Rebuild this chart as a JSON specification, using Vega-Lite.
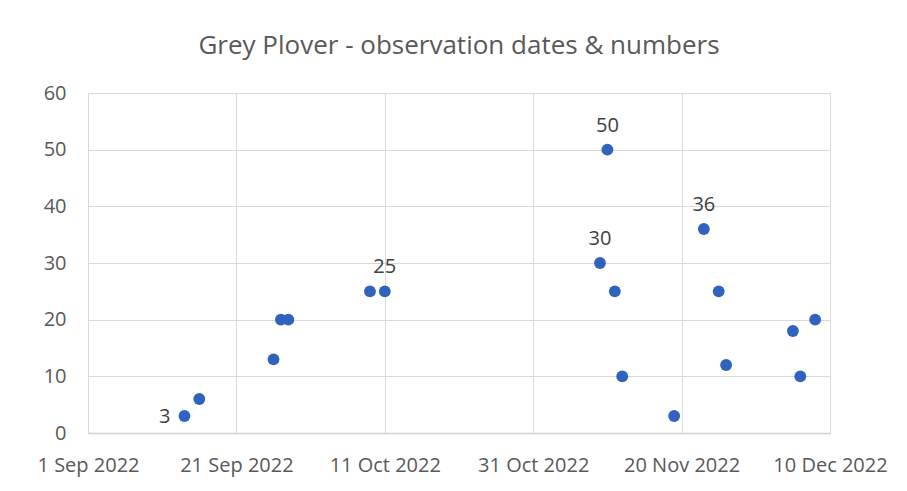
{
  "$schema": "https://vega.github.io/schema/vega-lite/v6.json",
  "width": 742,
  "height": 340,
  "autosize": {"type": "none"},
  "padding": {"left": 88, "top": 93, "right": 77, "bottom": 58},
  "background": "white",
  "title": {
    "text": "Grey Plover - observation dates & numbers",
    "font": "Open Sans",
    "fontSize": 26,
    "fontWeight": "normal",
    "color": "#595959",
    "anchor": "middle",
    "offset": 24
  },
  "config": {
    "view": {"stroke": null},
    "axis": {
      "labelFont": "Open Sans",
      "labelFontSize": 20,
      "labelColor": "#595959",
      "gridColor": "#d9d9d9",
      "gridWidth": 1,
      "ticks": false,
      "title": null
    }
  },
  "data": {
    "values": [
      {"date": "2022-09-14", "count": 3, "label": "3"},
      {"date": "2022-09-16", "count": 6, "label": null},
      {"date": "2022-09-26", "count": 13, "label": null},
      {"date": "2022-09-27", "count": 20, "label": null},
      {"date": "2022-09-28", "count": 20, "label": null},
      {"date": "2022-10-09", "count": 25, "label": null},
      {"date": "2022-10-11", "count": 25, "label": "25"},
      {"date": "2022-11-09", "count": 30, "label": "30"},
      {"date": "2022-11-10", "count": 50, "label": "50"},
      {"date": "2022-11-11", "count": 25, "label": null},
      {"date": "2022-11-12", "count": 10, "label": null},
      {"date": "2022-11-19", "count": 3, "label": null},
      {"date": "2022-11-23", "count": 36, "label": "36"},
      {"date": "2022-11-25", "count": 25, "label": null},
      {"date": "2022-11-26", "count": 12, "label": null},
      {"date": "2022-12-05", "count": 18, "label": null},
      {"date": "2022-12-06", "count": 10, "label": null},
      {"date": "2022-12-08", "count": 20, "label": null}
    ]
  },
  "encoding": {
    "x": {
      "field": "date",
      "type": "temporal",
      "scale": {
        "type": "utc",
        "domain": [
          {"year": 2022, "month": 9, "date": 1, "utc": true},
          {"year": 2022, "month": 12, "date": 10, "utc": true}
        ],
        "nice": false
      },
      "axis": {
        "values": [
          {"year": 2022, "month": 9, "date": 1, "utc": true},
          {"year": 2022, "month": 9, "date": 21, "utc": true},
          {"year": 2022, "month": 10, "date": 11, "utc": true},
          {"year": 2022, "month": 10, "date": 31, "utc": true},
          {"year": 2022, "month": 11, "date": 20, "utc": true},
          {"year": 2022, "month": 12, "date": 10, "utc": true}
        ],
        "labelExpr": "utcFormat(datum.value, '%-d %b %Y')",
        "labelPadding": 22,
        "labelOverlap": false,
        "labelFlush": false,
        "labelBound": false,
        "domainColor": "#d0d0d0",
        "domainWidth": 1.5,
        "labelAngle": 0
      }
    },
    "y": {
      "field": "count",
      "type": "quantitative",
      "scale": {"domain": [0, 60], "nice": false},
      "axis": {
        "values": [0, 10, 20, 30, 40, 50, 60],
        "domain": false,
        "labelPadding": 22
      }
    }
  },
  "layer": [
    {
      "mark": {"type": "point", "filled": true, "opacity": 1, "size": 140, "color": "#2f63bd"}
    },
    {
      "transform": [{"filter": "datum.label != null && datum.label != '3'"}],
      "mark": {"type": "text", "font": "Open Sans", "fontSize": 20, "color": "#404040", "dy": -24},
      "encoding": {"text": {"field": "label"}}
    },
    {
      "transform": [{"filter": "datum.label == '3'"}],
      "mark": {"type": "text", "font": "Open Sans", "fontSize": 20, "color": "#404040", "align": "right", "dx": -14, "dy": 1},
      "encoding": {"text": {"field": "label"}}
    }
  ]
}
